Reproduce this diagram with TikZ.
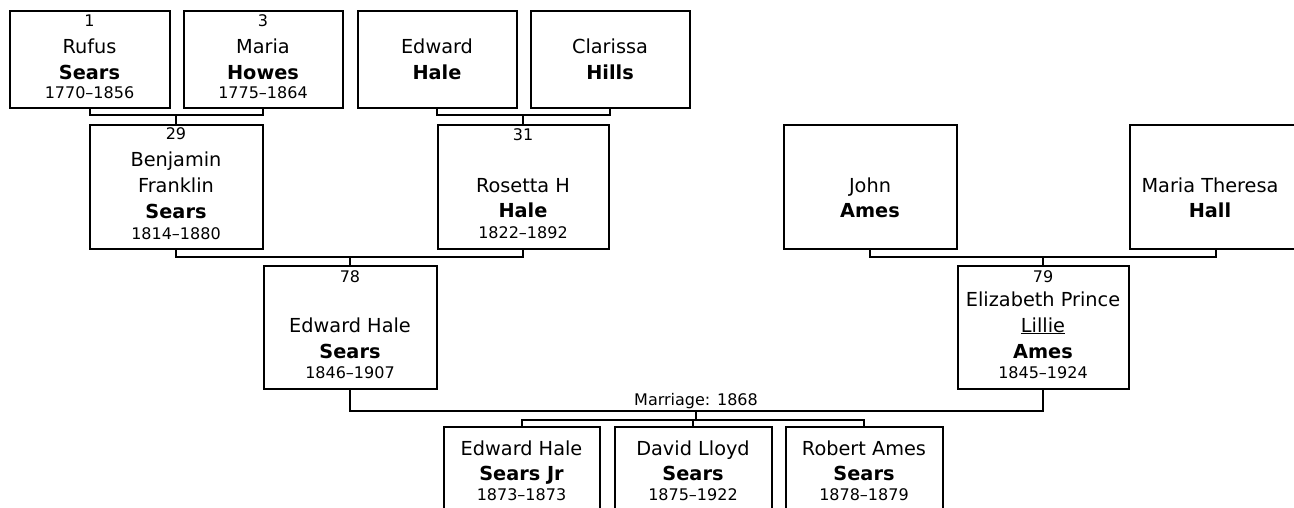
\documentclass[tikz,border=0pt]{standalone}
\usepackage{fontspec}
\setmainfont{DejaVu Sans}
\tikzset{
  pbox/.style={draw, line width=2pt, inner sep=0pt},
  conn/.style={draw, line width=2pt},
  txt/.style={anchor=base, inner sep=0pt, outer sep=0pt},
  smalltxt/.style={txt, font=\fontsize{16}{18}\selectfont},
  nametxt/.style={txt, font=\fontsize{19.3}{22}\selectfont},
  surtxt/.style={txt, font=\fontsize{19.3}{22}\selectfont\bfseries},
}
\begin{document}
\begin{tikzpicture}[x=1pt,y=-1pt]
\useasboundingbox (0,0) rectangle (1294,508);
\clip (0,0) rectangle (1294,508);
% boxes
\node[pbox, minimum width=160pt, minimum height=97pt] (rufus) at (89.5,59.5) {};
\node[pbox, minimum width=159pt, minimum height=97pt] (maria) at (263,59.5) {};
\node[pbox, minimum width=159pt, minimum height=97pt] (edhale) at (437,59.5) {};
\node[pbox, minimum width=159pt, minimum height=97pt] (clarissa) at (610,59.5) {};
\node[pbox, minimum width=173pt, minimum height=123pt] (b29) at (176,187) {};
\node[pbox, minimum width=171pt, minimum height=123pt] (b31) at (523,187) {};
\node[pbox, minimum width=173pt, minimum height=123pt] (john) at (870,187) {};
\node[pbox, minimum width=173pt, minimum height=123pt] (mth) at (1216,187) {};
\node[pbox, minimum width=173pt, minimum height=123pt] (b78) at (350,327) {};
\node[pbox, minimum width=171pt, minimum height=123pt] (b79) at (1043,327) {};
\node[pbox, minimum width=156pt, minimum height=120pt] (c1) at (521.5,487) {};
\node[pbox, minimum width=157pt, minimum height=120pt] (c2) at (693,487) {};
\node[pbox, minimum width=157pt, minimum height=120pt] (c3) at (864,487) {};
% texts
\node[smalltxt] (t1a) at (89.5,26.7) {1};
\node[nametxt] (t1b) at (89.5,53.3) {Rufus};
\node[surtxt] (t1c) at (89.5,79.3) {Sears};
\node[smalltxt] (t1d) at (89.5,98.3) {1770–1856};
\node[smalltxt] (t3a) at (263,26.7) {3};
\node[nametxt] (t3b) at (263,53.3) {Maria};
\node[surtxt] (t3c) at (263,79.3) {Howes};
\node[smalltxt] (t3d) at (263,98.3) {1775–1864};
\node[nametxt] (tehb) at (437,53.3) {Edward};
\node[surtxt] (tehc) at (437,79.3) {Hale};
\node[nametxt] (tclb) at (610,53.3) {Clarissa};
\node[surtxt] (tclc) at (610,79.3) {Hills};
\node[smalltxt] (t29a) at (176,140) {29};
\node[nametxt] (t29b) at (176,166.7) {Benjamin};
\node[nametxt] (t29c) at (176,192.7) {Franklin};
\node[surtxt] (t29d) at (176,218.3) {Sears};
\node[smalltxt] (t29e) at (176,239) {1814–1880};
\node[smalltxt] (t31a) at (523,141) {31};
\node[nametxt] (t31b) at (523,192.3) {Rosetta H};
\node[surtxt] (t31c) at (523,218) {Hale};
\node[smalltxt] (t31d) at (523,238.3) {1822–1892};
\node[nametxt] (tjb) at (870,192.3) {John};
\node[surtxt] (tjc) at (870,217.5) {Ames};
\node[nametxt] (tmb) at (1210,192.3) {Maria Theresa};
\node[surtxt] (tmc) at (1210,217.5) {Hall};
\node[smalltxt] (t78a) at (350,282) {78};
\node[nametxt] (t78b) at (350,332) {Edward Hale};
\node[surtxt] (t78c) at (350,358) {Sears};
\node[smalltxt] (t78d) at (350,378) {1846–1907};
\node[smalltxt] (t79a) at (1043,282) {79};
\node[nametxt] (t79b) at (1043,306) {Elizabeth Prince};
\node[nametxt] (t79c) at (1043,332) {\underline{Lillie}};
\node[surtxt] (t79d) at (1043,358) {Ames};
\node[smalltxt] (t79e) at (1043,378) {1845–1924};
\node[nametxt] (tc1a) at (521.5,455) {Edward Hale};
\node[surtxt] (tc1b) at (521.5,480) {Sears Jr};
\node[smalltxt] (tc1c) at (521.5,500) {1873–1873};
\node[nametxt] (tc2a) at (693,455) {David Lloyd};
\node[surtxt] (tc2b) at (693,480) {Sears};
\node[smalltxt] (tc2c) at (693,500) {1875–1922};
\node[nametxt] (tc3a) at (864,455) {Robert Ames};
\node[surtxt] (tc3b) at (864,480) {Sears};
\node[smalltxt] (tc3c) at (864,500) {1878–1879};
\node[smalltxt] (mlabel) at (696,405) {Marriage: 1868};
% junction coordinates
\coordinate (j1) at (176,115);
\coordinate (j2) at (523,115);
\coordinate (j3) at (350,256.5);
\coordinate (j4) at (1043,256.5);
\coordinate (jm) at (696,411);
\coordinate (jc) at (696,420);
% connectors
\draw[conn] (rufus.south) |- (j1) -| (maria.south);
\draw[conn] (j1) -- (b29.north);
\draw[conn] (edhale.south) |- (j2) -| (clarissa.south);
\draw[conn] (j2) -- (b31.north);
\draw[conn] (b29.south) |- (j3) -| (b31.south);
\draw[conn] (j3) -- (b78.north);
\draw[conn] (john.south) |- (j4) -| (mth.south);
\draw[conn] (j4) -- (b79.north);
\draw[conn] (b78.south) |- (jm) -| (b79.south);
\draw[conn] (jm) -- (jc);
\draw[conn] (c1.north) |- (jc) -| (c3.north);
\draw[conn] (jc) -| (c2.north);
\end{tikzpicture}
\end{document}
